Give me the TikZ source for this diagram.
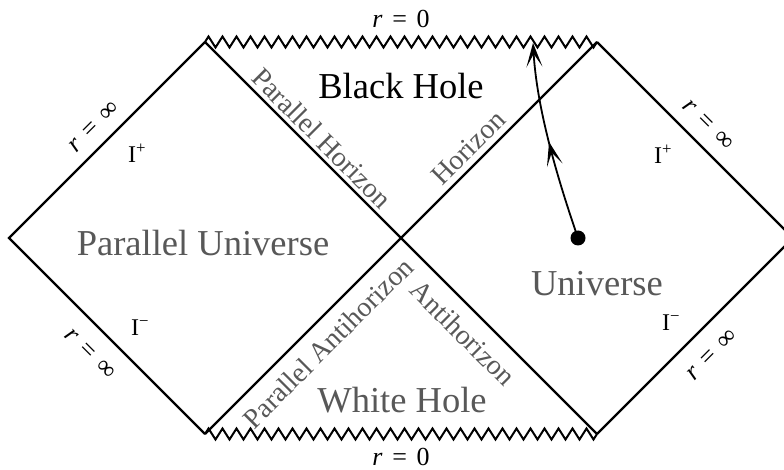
\documentclass[tikz,border=0pt]{standalone}
\usepackage{fontspec}
\setmainfont{Liberation Serif}
\usetikzlibrary{decorations.pathmorphing,decorations.markings,arrows.meta}
\definecolor{labgray}{RGB}{88,88,88}
\newcommand{\rsp}{\hspace{0.12em}}
\begin{document}
\begin{tikzpicture}[x=1pt,y=-1pt,
  edge/.style={line width=2.2pt},
  sing/.style={line width=2pt, decorate, decoration={zigzag, segment length=14pt, amplitude=5.5pt}},
  region/.style={font=\fontsize{36.5}{40}\selectfont, text=labgray, inner sep=0pt},
  horlab/.style={font=\fontsize{28}{30}\selectfont, text=labgray, inner sep=0pt},
  rlab/.style={font=\fontsize{26}{28}\selectfont, inner sep=0pt},
  ilab/.style={font=\fontsize{24}{26}\selectfont, inner sep=0pt},
  traj/.style={line width=1.8pt, -{Stealth[length=24pt,width=16pt,inset=13pt]}, postaction={decorate},
    decoration={markings, mark=at position 0.5 with {\arrow{Stealth[length=24pt,width=16pt,inset=13pt]}}}}
]
\clip (0,0) rectangle (784,470);
\fill[white] (0,0) rectangle (784,470);
% corners
\coordinate (L) at (9,238);
\coordinate (R) at (793,238);
\coordinate (C) at (401,238);
\coordinate (TL) at (205,42);
\coordinate (TR) at (597,42);
\coordinate (BL) at (205,434);
\coordinate (BR) at (597,434);
% edges
\draw[edge, line join=miter] (TL) -- (L) -- (BL);
\draw[edge, line join=miter] (TR) -- (R) -- (BR);
\draw[edge] (TL) -- (C) -- (BR);
\draw[edge] (BL) -- (C) -- (TR);
\draw[sing] (TL) -- (TR);
\draw[sing] (BL) -- (BR);
% trajectory
\node[circle, fill=black, inner sep=0pt, minimum size=15pt] (dot) at (578,238) {};
\coordinate (hit) at (533,43);
\draw[traj] (dot.center) .. controls (558,180) and (537,110) .. (hit);
% region labels
\node[region, text=black] (bh) at (401,86) {Black Hole};
\node[region] (pu) at (203,243) {Parallel Universe};
\node[region] (u) at (597,284) {Universe};
\node[region] (wh) at (402,400) {White Hole};
% horizon labels
\node[horlab, rotate=-45] (ph) at (322,138) {Parallel Horizon};
\node[horlab, rotate=45] (h) at (468,148) {Horizon};
\node[horlab, rotate=-45] (ah) at (463,333) {Antihorizon};
\node[horlab, rotate=45] (pah) at (328,343) {Parallel Antihorizon};
% r labels
\node[rlab] (r0t) at (401,19) {\textit{r}\rsp{} =\rsp{} 0};
\node[rlab] (r0b) at (401,457) {\textit{r}\rsp{} =\rsp{} 0};
\node[rlab, rotate=45] (rtl) at (94,127) {\textit{r}\rsp{} =\rsp{} ∞};
\node[rlab, rotate=-45] (rbl) at (90,354) {\textit{r}\rsp{} =\rsp{} ∞};
\node[rlab, rotate=-45] (rtr) at (708,125) {\textit{r}\rsp{} =\rsp{} ∞};
\node[rlab, rotate=45] (rbr) at (712,355) {\textit{r}\rsp{} =\rsp{} ∞};
% scri labels
\node[ilab] (ipl) at (137,153) {I\textsuperscript{+}};
\node[ilab] (iml) at (140,328) {I\textsuperscript{−}};
\node[ilab] (ipr) at (663,154) {I\textsuperscript{+}};
\node[ilab] (imr) at (671,323) {I\textsuperscript{−}};
\end{tikzpicture}
\end{document}
